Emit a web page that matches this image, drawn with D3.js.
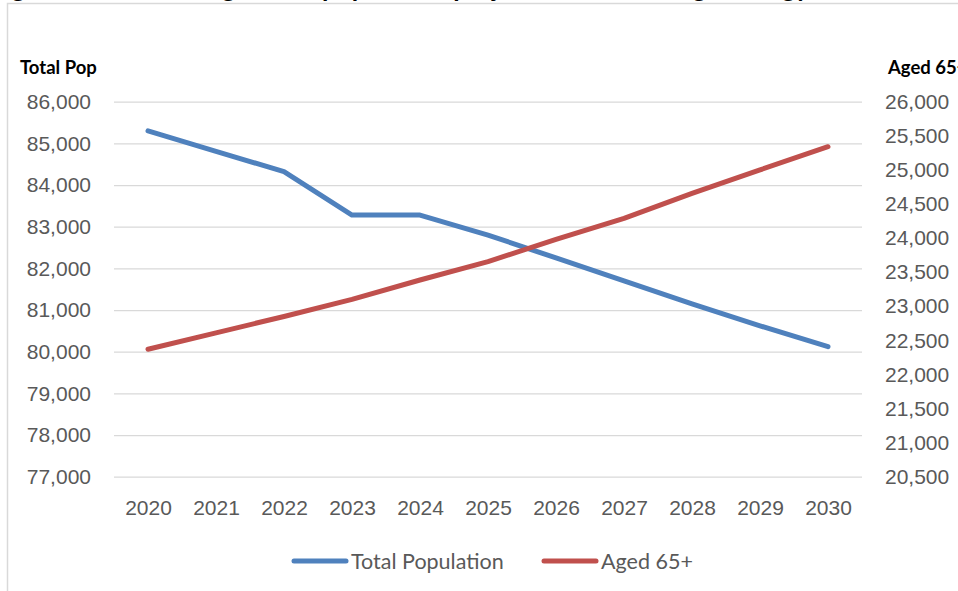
<!DOCTYPE html>
<html>
<head>
<meta charset="utf-8">
<script src="https://cdn.jsdelivr.net/npm/d3@7"></script>
<style>
  body { margin: 0; background: #fff; }
  svg { display: block; font-family: Lato, "Open Sans", sans-serif; }
  .axis text { fill: #595959; font-size: 21px; }
  .axis path { display: none; }
  .grid line { stroke: #d9d9d9; stroke-width: 1.3; }
  .grid path, .grid text { display: none; }
  .axisTitle { font-weight: bold; font-size: 18.5px; fill: #000; }
  .legend text { fill: #595959; font-size: 21.5px; }
</style>
</head>
<body>
<script>
// chart data
var years = [2020, 2021, 2022, 2023, 2024, 2025, 2026, 2027, 2028, 2029, 2030];
var totalPop = [85300, 84810, 84320, 83280, 83280, 82800, 82250, 81700, 81150, 80620, 80120];
var aged65 = [22370, 22610, 22850, 23100, 23385, 23655, 23980, 24290, 24655, 25000, 25340];
var leftTicks = [77000, 78000, 79000, 80000, 81000, 82000, 83000, 84000, 85000, 86000];
var rightTicks = [20500, 21000, 21500, 22000, 22500, 23000, 23500, 24000, 24500, 25000, 25500, 26000];
var seriesNames = ["Total Population", "Aged 65+"];
var seriesColors = ["#4f81bd", "#c0504d"];

var w = 958, h = 591;
//plot area
var plotLeft = 114, plotRight = 862, plotTop = 101.7, plotBottom = 476.7;

var svg = d3.select("body").append("svg")
  .attr("width", w)
  .attr("height", h);

svg.append("rect").attr("width", w).attr("height", h).attr("fill", "#fff");

//chart border (cropped on the right and bottom)
svg.append("rect")
  .attr("x", 7.5).attr("y", 3.5)
  .attr("width", w + 20).attr("height", h + 20)
  .attr("fill", "none")
  .attr("stroke", "#d9d9d9")
  .attr("stroke-width", 1.5);

//title, mostly cropped off the top of the picture
svg.append("text")
  .attr("x", 400)
  .attr("y", -3)
  .attr("text-anchor", "middle")
  .style("font-weight", "bold")
  .style("font-size", "26px")
  .text("Figure 3: Total and aged 65+ population projections \u2013 Housing Strategy");

var x = d3.scalePoint()
  .domain(years)
  .range([plotLeft, plotRight])
  .padding(0.5);

var yL = d3.scaleLinear()
  .domain([77000, 86000])
  .range([plotBottom, plotTop]);

var yR = d3.scaleLinear()
  .domain([20500, 26000])
  .range([plotBottom, plotTop]);

var fmt = d3.format(",");

//gridlines from the left axis
svg.append("g")
  .attr("class", "grid")
  .attr("transform", "translate(" + plotLeft + ",0)")
  .call(d3.axisLeft(yL).tickValues(leftTicks).tickSize(-(plotRight - plotLeft)));

svg.append("g")
  .attr("class", "axis")
  .attr("transform", "translate(" + plotLeft + ",0)")
  .call(d3.axisLeft(yL).tickValues(leftTicks).tickFormat(fmt).tickSize(0).tickPadding(23));

svg.append("g")
  .attr("class", "axis")
  .attr("transform", "translate(" + plotRight + ",0)")
  .call(d3.axisRight(yR).tickValues(rightTicks).tickFormat(fmt).tickSize(0).tickPadding(23));

svg.append("g")
  .attr("class", "axis")
  .attr("transform", "translate(0," + plotBottom + ")")
  .call(d3.axisBottom(x).tickSize(0).tickPadding(23));

svg.selectAll(".axis line").remove();

//axis titles
svg.append("text").attr("class", "axisTitle")
  .attr("x", 20).attr("y", 74)
  .text("Total Pop");
svg.append("text").attr("class", "axisTitle")
  .attr("x", 888).attr("y", 74)
  .text("Aged 65+");

//lines
var lineL = d3.line()
  .x(function(d, i) { return x(years[i]); })
  .y(function(d) { return yL(d); });
var lineR = d3.line()
  .x(function(d, i) { return x(years[i]); })
  .y(function(d) { return yR(d); });

svg.append("path")
  .datum(totalPop)
  .attr("d", lineL)
  .attr("fill", "none")
  .attr("stroke", seriesColors[0])
  .attr("stroke-width", 5)
  .attr("stroke-linejoin", "round")
  .attr("stroke-linecap", "round");

svg.append("path")
  .datum(aged65)
  .attr("d", lineR)
  .attr("fill", "none")
  .attr("stroke", seriesColors[1])
  .attr("stroke-width", 5)
  .attr("stroke-linejoin", "round")
  .attr("stroke-linecap", "round");

//legend
var legendX = [294, 544];
var legend = svg.selectAll(".legend")
  .data(seriesNames)
  .enter()
  .append("g")
  .attr("class", "legend")
  .attr("transform", function(d, i) { return "translate(" + legendX[i] + ",561)"; });

legend.append("line")
  .attr("x1", 0).attr("x2", 52)
  .attr("stroke", function(d, i) { return seriesColors[i]; })
  .attr("stroke-width", 5)
  .attr("stroke-linecap", "round");

legend.append("text")
  .attr("x", 57)
  .attr("dy", "0.36em")
  .text(function(d) { return d; });
</script>
</body>
</html>
